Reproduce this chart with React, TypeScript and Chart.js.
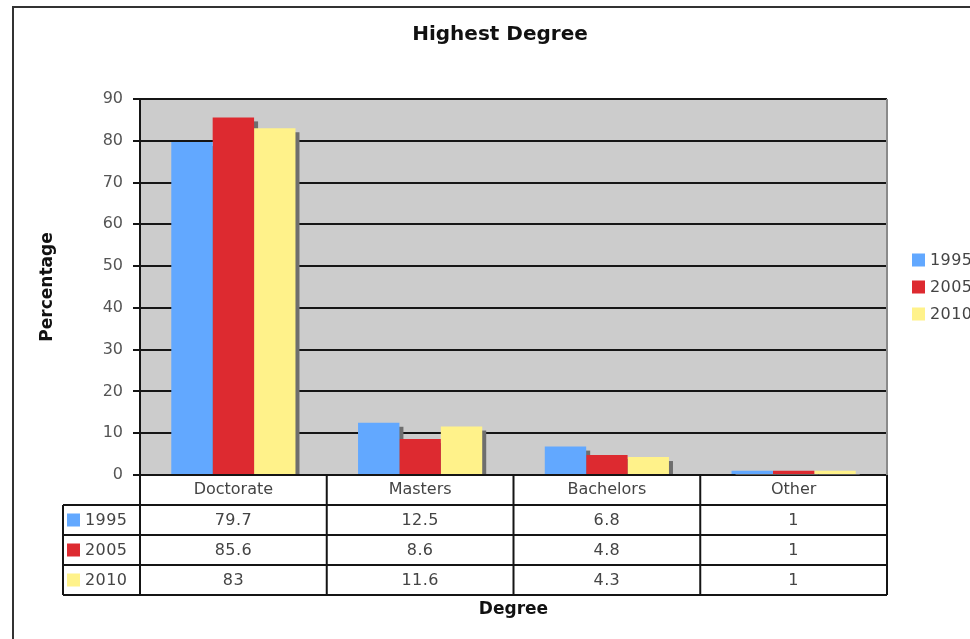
import React, { useEffect, useRef } from 'react';
import { Chart, registerables } from 'chart.js';

Chart.register(...registerables);

const chartTitle = 'Highest Degree';
const xAxisTitle = 'Degree';
const yAxisTitle = 'Percentage';
const categories = ['Doctorate', 'Masters', 'Bachelors', 'Other'];
const seriesLabels = ['1995', '2005', '2010'];
const values1995 = [79.7, 12.5, 6.8, 1];
const values2005 = [85.6, 8.6, 4.8, 1];
const values2010 = [83, 11.6, 4.3, 1];
const seriesColors = ['#62a8ff', '#dd2a30', '#fff28a'];
const yMin = 0;
const yMax = 90;
const yStep = 10;

const FONT = "'DejaVu Sans', Verdana, sans-serif";

const decorPlugin = {
  id: 'decor',
  beforeDraw(chart: any) {
    const { ctx, chartArea: a } = chart;
    ctx.save();
    ctx.fillStyle = '#ffffff';
    ctx.fillRect(0, 0, chart.width, chart.height);
    ctx.strokeStyle = '#333333';
    ctx.lineWidth = 2;
    ctx.strokeRect(13, 7, chart.width + 50, chart.height + 50);
    ctx.fillStyle = '#cccccc';
    ctx.fillRect(a.left, a.top, a.right - a.left, a.bottom - a.top);
    ctx.restore();
  },
  beforeDatasetsDraw(chart: any) {
    const { ctx, chartArea: a } = chart;
    ctx.save();
    ctx.beginPath();
    ctx.rect(a.left, a.top, a.right - a.left, a.bottom - a.top);
    ctx.clip();
    ctx.fillStyle = '#6e6e6e';
    chart.data.datasets.forEach((_d: any, di: number) => {
      const meta = chart.getDatasetMeta(di);
      meta.data.forEach((el: any) => {
        const { x, y, base, width } = el.getProps(['x', 'y', 'base', 'width'], true);
        ctx.fillRect(x - width / 2 + 4, y + 4, width, base - y - 4);
      });
    });
    ctx.restore();
  },
  afterDraw(chart: any) {
    const { ctx, chartArea: a } = chart;
    const xs = chart.scales.x;
    const n = categories.length;
    const rowH = 30;
    const top = a.bottom;
    const legendLeft = 63;
    const rows = chart.data.datasets.length;
    const bottom = top + rowH * (rows + 1);
    ctx.save();
    // chart title
    ctx.fillStyle = '#111111';
    ctx.font = `bold 20px ${FONT}`;
    ctx.textAlign = 'center';
    ctx.textBaseline = 'middle';
    ctx.fillText(chartTitle, 500, 35);

    // right edge of plot
    ctx.strokeStyle = '#8a8a8a';
    ctx.lineWidth = 2;
    ctx.beginPath();
    ctx.moveTo(a.right, a.top);
    ctx.lineTo(a.right, a.bottom);
    ctx.stroke();

    ctx.strokeStyle = '#151515';
    ctx.lineWidth = 2;
    ctx.beginPath();
    for (let r = 1; r <= rows + 1; r++) {
      const y = top + rowH * r;
      ctx.moveTo(legendLeft, y);
      ctx.lineTo(a.right, y);
    }
    ctx.moveTo(a.left, top);
    ctx.lineTo(a.left, bottom);
    ctx.moveTo(legendLeft, top + rowH);
    ctx.lineTo(legendLeft, bottom);
    for (let i = 0; i < n - 1; i++) {
      const bx = (xs.getPixelForValue(i) + xs.getPixelForValue(i + 1)) / 2;
      ctx.moveTo(bx, top);
      ctx.lineTo(bx, bottom);
    }
    ctx.moveTo(a.right, top);
    ctx.lineTo(a.right, bottom);
    ctx.stroke();

    ctx.font = `16px ${FONT}`;
    ctx.textBaseline = 'middle';
    if ('letterSpacing' in ctx) (ctx as any).letterSpacing = '0.4px';
    chart.data.datasets.forEach((ds: any, r: number) => {
      const cy = top + rowH * (r + 1) + rowH / 2;
      ctx.fillStyle = ds.backgroundColor;
      ctx.fillRect(legendLeft + 4, cy - 6.5, 13, 13);
      ctx.fillStyle = '#444444';
      ctx.textAlign = 'left';
      ctx.fillText(ds.label, legendLeft + 22, cy + 1);
      ctx.textAlign = 'center';
      ds.data.forEach((v: number, i: number) => {
        ctx.fillText(String(v), xs.getPixelForValue(i), cy + 1);
      });
    });

    // right legend
    const midY = (a.top + a.bottom) / 2;
    chart.data.datasets.forEach((ds: any, r: number) => {
      const cy = midY + (r - (rows - 1) / 2) * 27;
      ctx.fillStyle = ds.backgroundColor;
      ctx.fillRect(912, cy - 6.5, 13, 13);
      ctx.fillStyle = '#444444';
      ctx.textAlign = 'left';
      ctx.fillText(ds.label, 930, cy + 1);
    });
    ctx.restore();
  },
};

export default function App() {
  const ref = useRef<HTMLCanvasElement | null>(null);
  useEffect(() => {
    if (!ref.current) return;
    const chart = new Chart(ref.current, {
      type: 'bar',
      data: {
        labels: categories,
        datasets: [
          { label: seriesLabels[0], data: values1995, backgroundColor: seriesColors[0] },
          { label: seriesLabels[1], data: values2005, backgroundColor: seriesColors[1] },
          { label: seriesLabels[2], data: values2010, backgroundColor: seriesColors[2] },
        ],
      },
      options: {
        animation: false,
        responsive: false,
        maintainAspectRatio: false,
        devicePixelRatio: 1,
        datasets: { bar: { categoryPercentage: 0.665, barPercentage: 1, borderWidth: 0 } },
        layout: { padding: { left: 0, right: 83, top: 99, bottom: 0 } },
        plugins: {
          legend: { display: false },
          tooltip: { enabled: false },
          title: { display: false },
        },
        scales: {
          x: {
            grid: { display: false, drawTicks: false },
            border: { display: true, color: '#151515', width: 2 },
            ticks: { color: '#444444', font: { family: FONT, size: 16 }, padding: 5 },
            title: {
              display: true,
              text: xAxisTitle,
              color: '#111111',
              font: { family: FONT, size: 17, weight: 'bold' },
              padding: { top: 0, bottom: 19 },
            },
            afterFit: (s: any) => { s.height = 164; },
          },
          y: {
            min: yMin,
            max: yMax,
            ticks: { stepSize: yStep, color: '#555555', font: { family: FONT, size: 16 }, padding: 10 },
            grid: { color: '#151515', lineWidth: 2, tickLength: 7, drawTicks: true },
            border: { display: true, color: '#151515', width: 2 },
            title: {
              display: true,
              text: yAxisTitle,
              color: '#111111',
              font: { family: FONT, size: 17, weight: 'bold' },
              padding: { top: 37, bottom: 0 },
            },
            afterFit: (s: any) => { s.width = 140; },
          },
        },
      },
      plugins: [decorPlugin],
    });
    return () => chart.destroy();
  }, []);
  return (
    <div style={{ position: 'absolute', left: 0, top: 0, width: 970, height: 639, overflow: 'hidden' }}>
      <canvas ref={ref} width={970} height={639} style={{ display: 'block', width: 970, height: 639 }} />
    </div>
  );
}
